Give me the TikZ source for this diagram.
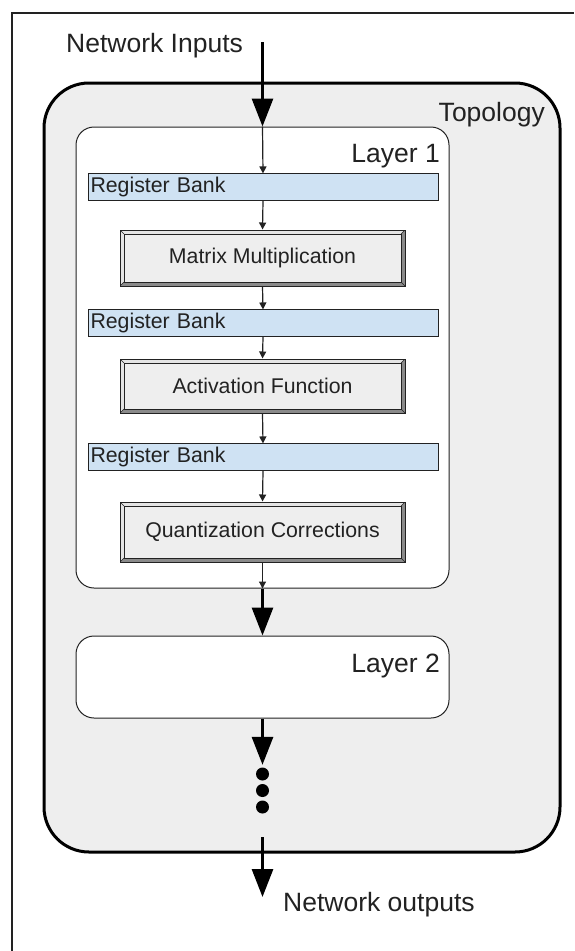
\documentclass[tikz,border=0pt]{standalone}
\usepackage{fontspec}
\setmainfont{Liberation Sans}
\usetikzlibrary{arrows.meta}
\definecolor{panel}{HTML}{EEEEEE}
\definecolor{regfill}{HTML}{CFE2F3}
\definecolor{ink}{HTML}{222222}
\definecolor{bevelshade}{HTML}{8A8A8A}
\definecolor{bevellight}{HTML}{E4E4E4}
\tikzset{
  bigarrow/.style={line width=3pt, black, -{Triangle[length=28pt,width=21pt]}},
  smallarrow/.style={line width=1.2pt, ink, -{Triangle[length=7pt,width=7pt]}},
  biglabel/.style={font=\fontsize{26.5}{30}\selectfont, text=ink, inner sep=0pt},
  topobox/.style={draw=black, line width=3pt, fill=panel, rounded corners=45pt,
    minimum width=516pt, minimum height=769pt, inner sep=0pt},
  layerbox/.style={draw=ink, line width=1pt, fill=white, rounded corners=18pt,
    minimum width=373pt, inner sep=0pt},
  regbank/.style={draw=ink, line width=1pt, fill=regfill, minimum height=26.7pt,
    text width=345pt, inner xsep=2.5pt, inner ysep=0pt, align=left, text=ink,
    font=\fontsize{21.3}{24}\selectfont},
  bevelbox/.style={draw=ink, line width=1pt, fill=panel, minimum width=285pt,
    inner sep=0pt, text=ink, font=\fontsize{21.3}{24}\selectfont,
    path picture={
      \path (path picture bounding box.north west) coordinate (oNW)
            (path picture bounding box.north east) coordinate (oNE)
            (path picture bounding box.south east) coordinate (oSE)
            (path picture bounding box.south west) coordinate (oSW);
      \path ([shift={(4pt,-4pt)}]oNW) coordinate (iNW)
            ([shift={(-4pt,-4pt)}]oNE) coordinate (iNE)
            ([shift={(-4pt,4pt)}]oSE) coordinate (iSE)
            ([shift={(4pt,4pt)}]oSW) coordinate (iSW);
      \fill[bevellight] (oSW) -- (oNW) -- (oNE) -- (iNE) -- (iNW) -- (iSW) -- cycle;
      \fill[bevelshade] (oSW) -- (oSE) -- (oNE) -- (iNE) -- (iSE) -- (iSW) -- cycle;
      \draw[ink, line width=0.9pt] (iNW) rectangle (iSE);
      \draw[ink, line width=0.6pt] (oNW) -- (iNW) (oNE) -- (iNE) (oSW) -- (iSW) (oSE) -- (iSE);
    }},
  dot/.style={circle, fill=black, minimum size=13pt, inner sep=0pt}
}
\begin{document}
\begin{tikzpicture}[x=1pt, y=-1pt]
  \useasboundingbox (0,0) rectangle (574,951);

  % page frame (left and top edges)
  \draw[line width=1.6pt, ink] (12,951) -- (12,13) -- (574,13);

  % topology container
  \node[topobox] (topo) at (302,467.5) {};
  \node[biglabel, anchor=base east] (topolabel) at (545,121.5) {Topology};

  % layer 1 and its pipeline
  \node[layerbox, minimum height=461pt] (layer1) at (262.5,357.5) {};
  \node[biglabel, anchor=base east] (l1label) at (440,162) {Layer 1};

  \node[regbank] (rb1) at (263,187.3) {Register Bank};
  \node[bevelbox, minimum height=56pt] (mm) at (262.5,258) {Matrix Multiplication};
  \node[regbank] (rb2) at (263,323.3) {Register Bank};
  \node[bevelbox, minimum height=54pt] (af) at (262.5,386) {Activation Function};
  \node[regbank] (rb3) at (263,457.3) {Register Bank};
  \node[bevelbox, minimum height=60pt] (qc) at (262.5,532) {Quantization Corrections};

  % layer 2
  \node[layerbox, minimum height=82pt] (layer2) at (262.5,677) {};
  \node[biglabel, anchor=base east] (l2label) at (440,672) {Layer 2};

  % continuation dots
  \node[dot] (d1) at (262.5,774) {};
  \node[dot] (d2) at (262.5,790.5) {};
  \node[dot] (d3) at (262.5,807) {};

  % inputs and outputs
  \node[biglabel, anchor=base west] (inlabel) at (66,52) {Network Inputs};
  \coordinate (inStart) at (262.5,42);
  \coordinate (outStart) at (262.5,837);
  \coordinate (outEnd) at (262.5,897);
  \node[biglabel, anchor=base west] (outlabel) at (283,911) {Network outputs};

  % thick flow arrows
  \draw[bigarrow] (inStart) -- (layer1.north);
  \draw[bigarrow] (layer1.south) -- (layer2.north);
  \draw[bigarrow, shorten >=2.5pt] (layer2.south) -- (d1.north);
  \draw[bigarrow] (outStart) -- (outEnd);

  % thin arrows inside layer 1
  \draw[smallarrow] (layer1.north) -- (rb1.north);
  \draw[smallarrow] (rb1.south) -- (mm.north);
  \draw[smallarrow] (mm.south) -- (rb2.north);
  \draw[smallarrow] (rb2.south) -- (af.north);
  \draw[smallarrow] (af.south) -- (rb3.north);
  \draw[smallarrow] (rb3.south) -- (qc.north);
  \draw[smallarrow] (qc.south) -- (layer1.south);
\end{tikzpicture}
\end{document}
